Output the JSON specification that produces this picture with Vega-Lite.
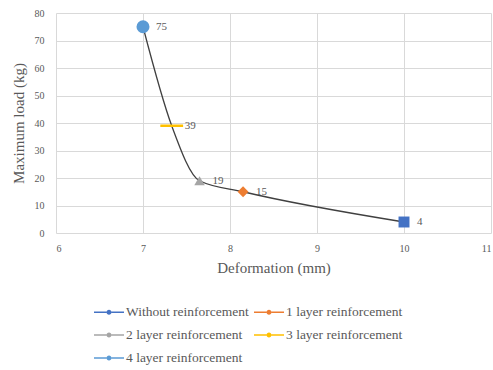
{
  "$schema": "https://vega.github.io/schema/vega-lite/v6.json",
  "width": 435,
  "height": 220,
  "autosize": "none",
  "padding": {"left": 56, "top": 13, "right": 2, "bottom": 137},
  "background": "white",
  "config": {
    "view": {"stroke": null},
    "font": "Liberation Serif",
    "style": {
      "guide-label": {"font": "Liberation Serif", "fill": "#595959"},
      "guide-title": {"font": "Liberation Serif", "fill": "#595959"}
    },
    "axis": {
      "gridColor": "#d9d9d9",
      "gridWidth": 1,
      "domain": false,
      "ticks": false,
      "labelFont": "Liberation Serif",
      "labelColor": "#595959",
      "labelFontSize": 10,
      "labelOverlap": false,
      "titleFont": "Liberation Serif",
      "titleColor": "#595959",
      "titleFontSize": 15,
      "titleFontWeight": "normal"
    },
    "legend": {
      "labelFont": "Liberation Serif",
      "labelColor": "#595959",
      "labelFontSize": 13.5
    }
  },
  "data": {
    "values": [
      {"series": "Without reinforcement", "deformation": 10, "load": 4},
      {"series": "1 layer reinforcement", "deformation": 8.15, "load": 15},
      {"series": "2 layer reinforcement", "deformation": 7.65, "load": 19},
      {"series": "3 layer reinforcement", "deformation": 7.33, "load": 39},
      {"series": "4 layer reinforcement", "deformation": 7, "load": 75}
    ]
  },
  "encoding": {
    "x": {
      "field": "deformation", "type": "quantitative",
      "scale": {"domain": [6, 11], "nice": false},
      "axis": {"values": [6, 7, 8, 9, 10, 11], "format": "d", "labelFont": "Liberation Serif", "title": "Deformation (mm)", "labelPadding": 10, "titlePadding": 7}
    },
    "y": {
      "field": "load", "type": "quantitative",
      "scale": {"domain": [0, 80], "nice": false},
      "axis": {"values": [0, 10, 20, 30, 40, 50, 60, 70, 80], "format": "d", "labelFont": "Liberation Serif", "title": "Maximum load (kg)", "labelPadding": 12, "titlePadding": 8}
    },
    "color": {
      "field": "series", "type": "nominal",
      "scale": {
        "domain": ["Without reinforcement", "1 layer reinforcement", "2 layer reinforcement", "3 layer reinforcement", "4 layer reinforcement"],
        "range": ["#4472C4", "#ED7D31", "#A5A5A5", "#FFC000", "#5B9BD5"]
      },
      "legend": {
        "title": null,
        "orient": "none",
        "legendX": 43,
        "legendY": 289,
        "columns": 2,
        "direction": "horizontal",
        "columnPadding": 5,
        "rowPadding": 6,
        "labelOffset": 7,
        "labelFont": "Liberation Serif",
        "symbolType": "M-1.5,-0.08H-0.25V0.08H-1.5Z M0.25,-0.08H1.5V0.08H0.25Z M-0.25,0A0.25,0.25 0 1,0 0.25,0A0.25,0.25 0 1,0 -0.25,0Z",
        "symbolSize": 400,
        "symbolStrokeWidth": 0,
        "symbolOpacity": 1
      }
    }
  },
  "layer": [
    {
      "mark": {"type": "line", "interpolate": "monotone", "strokeWidth": 1.3},
      "encoding": {
        "color": {"value": "#404040"},
        "order": {"field": "deformation", "type": "quantitative"}
      }
    },
    {
      "transform": [{"filter": {"field": "series", "equal": "Without reinforcement"}}],
      "mark": {"type": "point", "filled": true, "opacity": 1, "shape": "square", "size": 120}
    },
    {
      "transform": [{"filter": {"field": "series", "equal": "1 layer reinforcement"}}],
      "mark": {"type": "point", "filled": true, "opacity": 1, "shape": "diamond", "size": 120}
    },
    {
      "transform": [{"filter": {"field": "series", "equal": "2 layer reinforcement"}}],
      "mark": {"type": "point", "filled": true, "opacity": 1, "shape": "triangle-up", "size": 110}
    },
    {
      "transform": [{"filter": {"field": "series", "equal": "3 layer reinforcement"}}],
      "mark": {"type": "point", "filled": true, "opacity": 1, "shape": "M-2,-0.22H2V0.22H-2Z", "size": 130}
    },
    {
      "transform": [{"filter": {"field": "series", "equal": "4 layer reinforcement"}}],
      "mark": {"type": "point", "filled": true, "opacity": 1, "shape": "circle", "size": 170}
    },
    {
      "mark": {"type": "text", "align": "left", "baseline": "middle", "dx": 13, "fontSize": 11, "font": "Liberation Serif"},
      "encoding": {
        "color": {"value": "#595959"},
        "text": {"field": "load", "type": "quantitative"}
      }
    }
  ]
}
